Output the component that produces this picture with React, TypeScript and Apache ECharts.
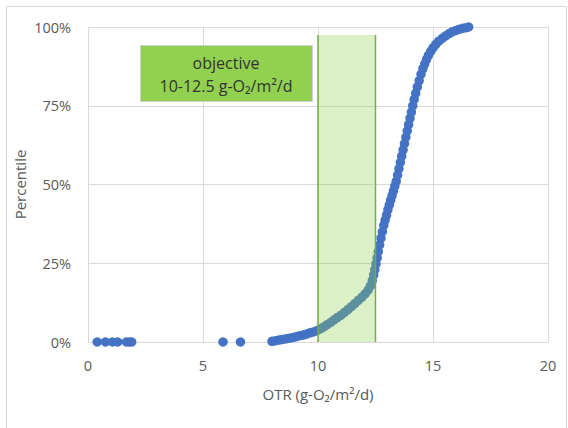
import React, { useEffect, useRef } from "react";
import * as echarts from "echarts";

const xTicks = [0, 5, 10, 15, 20];
const yTickLabels = ["0%", "25%", "50%", "75%", "100%"];

// OTR values (g-O2/m2/d) and their percentiles (%)
const otr = [
  0.4, 0.76, 1.07, 1.29, 1.67, 1.8, 1.9, 5.87, 6.63,
  8.0, 8.15, 8.3, 8.45, 8.6, 8.75, 8.9, 9.05, 9.2, 9.35, 9.5, 9.65, 9.8, 9.95,
  10.1, 10.25, 10.4, 10.55, 10.7, 10.85, 11.0, 11.15, 11.3, 11.45, 11.6, 11.75,
  11.9, 12.05, 12.18, 12.28, 12.36, 12.42, 12.47, 12.52, 12.57, 12.62, 12.68,
  12.74, 12.8, 12.86, 12.92, 12.98, 13.04, 13.1, 13.16, 13.22, 13.28, 13.34,
  13.4, 13.46, 13.52, 13.58, 13.64, 13.7, 13.76, 13.82, 13.88, 13.94, 14.0,
  14.06, 14.12, 14.18, 14.25, 14.32, 14.4, 14.48, 14.56, 14.64, 14.72, 14.8,
  14.9, 15.0, 15.12, 15.25, 15.4, 15.55, 15.7, 15.85, 16.0, 16.15, 16.3, 16.45, 16.55,
];
const percentile = [
  0, 0, 0, 0, 0, 0, 0, 0, 0,
  0.2, 0.4, 0.6, 0.8, 1.0, 1.2, 1.4, 1.7, 2.0, 2.2, 2.5, 2.9, 3.2, 3.6,
  4.2, 4.8, 5.5, 6.2, 7.0, 7.8, 8.5, 9.4, 10.3, 11.2, 12.2, 13.2,
  14.2, 15.3, 16.5, 17.8, 19.5, 21.3, 23.0, 24.8, 26.7, 28.7, 30.8,
  33.0, 35.0, 37, 38.7, 40.3, 42, 43.5, 45, 46.5, 48, 49.5,
  51, 53, 55, 57, 59, 61, 63, 65, 67, 69, 71,
  73, 75, 77, 79, 81, 83, 85, 86.8, 88.3, 89.7, 91,
  92.3, 93.4, 94.5, 95.5, 96.4, 97.2, 97.9, 98.5, 98.9, 99.3, 99.6, 99.8, 100,
];

// Objective band: [from, to, top percentile]
const objectiveBand = [[10, 12.5, 97.5]];
const objectiveLines = ["objective", "10-12.5 g-O₂/m²/d"];

export default function App() {
  const ref = useRef<HTMLDivElement>(null);
  useEffect(() => {
    if (!ref.current) return;
    const chart = echarts.init(ref.current, null, { renderer: "svg" });
    const font = "'Open Sans', 'Noto Sans', sans-serif";
    const labelColor = "#595959";
    chart.setOption({
      animation: false,
      textStyle: { fontFamily: font },
      grid: { left: 88, right: 20, top: 27, bottom: 86 },
      xAxis: {
        type: "value",
        min: xTicks[0],
        max: xTicks[xTicks.length - 1],
        interval: 5,
        name: "OTR (g-O₂/m²/d)",
        nameLocation: "middle",
        nameGap: 44,
        nameTextStyle: { color: labelColor, fontSize: 15, fontFamily: font },
        axisLine: { show: true, lineStyle: { color: "#d9d9d9", width: 1 } },
        axisTick: { show: false },
        axisLabel: { color: labelColor, fontSize: 14.5, margin: 16, fontFamily: font },
        splitLine: { show: true, lineStyle: { color: "#d9d9d9", width: 1 } },
      },
      yAxis: {
        type: "value",
        min: 0,
        max: 100,
        interval: 25,
        name: "Percentile",
        nameLocation: "middle",
        nameGap: 61,
        nameMoveOverlap: false,
        nameTextStyle: { color: labelColor, fontSize: 15, fontFamily: font },
        axisLine: { show: false },
        axisTick: { show: false },
        axisLabel: {
          color: labelColor,
          fontSize: 14.5,
          margin: 17,
          fontFamily: font,
          formatter: (v: number) => yTickLabels[Math.round(v / 25)],
        },
        splitLine: { show: true, lineStyle: { color: "#d9d9d9", width: 1 } },
      },
      series: [
        {
          type: "scatter",
          z: 2,
          symbol: "circle",
          symbolSize: 9.5,
          itemStyle: { color: "#4472c4", opacity: 1 },
          data: otr.map((x, i) => [x, percentile[i]]),
        },
        {
          type: "custom",
          z: 3,
          silent: true,
          data: objectiveBand,
          renderItem: (params: any, api: any) => {
            const p0 = api.coord([api.value(0), 0]);
            const p1 = api.coord([api.value(1), api.value(2)]);
            const x0 = p0[0];
            const x1 = p1[0];
            const yb = p0[1];
            const yt = p1[1];
            return {
              type: "group",
              children: [
                {
                  type: "rect",
                  shape: { x: x0, y: yt, width: x1 - x0, height: yb - yt, r: [2, 2, 0, 0] },
                  style: { fill: "rgba(146,208,80,0.32)" },
                },
                {
                  type: "line",
                  shape: { x1: x0, y1: yt, x2: x0, y2: yb },
                  style: { stroke: "#70ad47", lineWidth: 1.5 },
                },
                {
                  type: "line",
                  shape: { x1: x1, y1: yt, x2: x1, y2: yb },
                  style: { stroke: "#70ad47", lineWidth: 1.5 },
                },
              ],
            };
          },
        },
      ],
      graphic: [
        {
          type: "rect",
          left: 4,
          top: 4,
          shape: { width: 560, height: 422 },
          style: { fill: "none", stroke: "#d9d9d9", lineWidth: 1 },
          silent: true,
        },
        {
          type: "rect",
          left: 140,
          top: 45,
          z: 10,
          shape: { width: 172, height: 56 },
          style: { fill: "#92d050", stroke: "#d0d0d0", lineWidth: 1 },
        },
        {
          type: "text",
          x: 226,
          y: 63,
          z: 11,
          style: {
            text: objectiveLines[0],
            fill: "#333333",
            fontSize: 16,
            fontFamily: font,
            align: "center",
            verticalAlign: "middle",
          },
        },
        {
          type: "text",
          x: 226,
          y: 86,
          z: 11,
          style: {
            text: objectiveLines[1],
            fill: "#333333",
            fontSize: 16,
            fontFamily: font,
            align: "center",
            verticalAlign: "middle",
          },
        },
      ],
    });
    return () => chart.dispose();
  }, []);
  return (
    <div
      ref={ref}
      style={{ position: "fixed", left: 0, top: 0, width: 568, height: 428, background: "#fff" }}
    />
  );
}
